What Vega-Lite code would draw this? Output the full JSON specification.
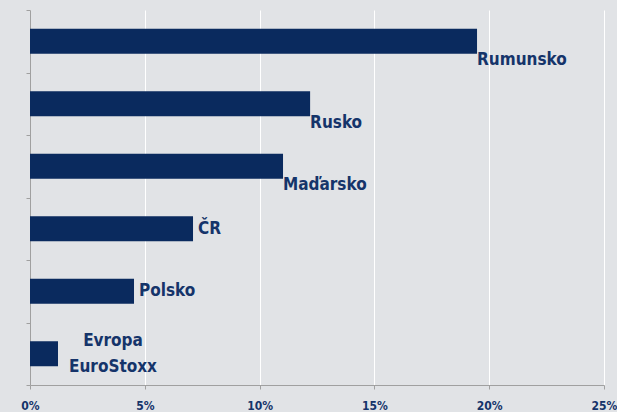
{
  "$schema": "https://vega.github.io/schema/vega-lite/v6.json",
  "width": 574,
  "height": 375,
  "autosize": {"type": "none"},
  "padding": {"left": 30, "top": 10, "right": 13, "bottom": 27},
  "background": "#e1e3e6",
  "config": {
    "view": {"stroke": null, "fill": "#e1e3e6"},
    "font": "DejaVu Sans Condensed"
  },
  "data": {
    "values": [
      {"country": "Rumunsko", "value": 19.47, "label": "Rumunsko", "pos": "below"},
      {"country": "Rusko", "value": 12.2, "label": "Rusko", "pos": "below"},
      {"country": "Maďarsko", "value": 11.02, "label": "Maďarsko", "pos": "below"},
      {"country": "ČR", "value": 7.1, "label": "ČR", "pos": "right"},
      {"country": "Polsko", "value": 4.53, "label": "Polsko", "pos": "right"},
      {"country": "Evropa EuroStoxx", "value": 1.22, "label": ["Evropa", "EuroStoxx"], "pos": "center"}
    ]
  },
  "encoding": {
    "y": {
      "field": "country",
      "type": "nominal",
      "sort": null,
      "scale": {"paddingInner": 0, "paddingOuter": 0},
      "axis": {
        "title": null,
        "labels": false,
        "domainColor": "#a0a0a0",
        "tickColor": "#a0a0a0",
        "tickSize": 4,
        "tickBand": "extent",
        "grid": false
      }
    },
    "x": {
      "field": "value",
      "type": "quantitative",
      "scale": {"domain": [0, 25], "nice": false},
      "axis": {
        "title": null,
        "values": [0, 5, 10, 15, 20, 25],
        "labelExpr": "datum.value + '%'",
        "grid": true,
        "gridColor": "#ffffff",
        "gridWidth": 1,
        "domainColor": "#a0a0a0",
        "tickColor": "#a0a0a0",
        "tickSize": 4,
        "labelFont": "DejaVu Sans Condensed",
        "labelFontWeight": "bold",
        "labelFontSize": 12,
        "labelColor": "#15346a",
        "labelPadding": 11,
        "labelFlush": false,
        "labelOverlap": false,
        "labelBound": false
      }
    }
  },
  "layer": [
    {"mark": {"type": "bar", "color": "#0a2a5e", "height": {"band": 0.4}}},
    {
      "transform": [{"filter": "datum.pos == 'below'"}],
      "mark": {"type": "text", "align": "left", "baseline": "alphabetic", "dy": 24, "dx": 0, "fontSize": 17, "fontWeight": "bold", "color": "#15346a"},
      "encoding": {"text": {"field": "label"}}
    },
    {
      "transform": [{"filter": "datum.pos == 'right'"}],
      "mark": {"type": "text", "align": "left", "baseline": "middle", "dx": 5, "fontSize": 17, "fontWeight": "bold", "color": "#15346a"},
      "encoding": {"text": {"field": "label"}}
    },
    {
      "transform": [{"filter": "datum.pos == 'center'"}],
      "mark": {"type": "text", "align": "center", "baseline": "middle", "dx": 55, "dy": -13, "lineHeight": 26, "fontSize": 17, "fontWeight": "bold", "color": "#15346a"},
      "encoding": {"text": {"field": "label"}}
    }
  ]
}
